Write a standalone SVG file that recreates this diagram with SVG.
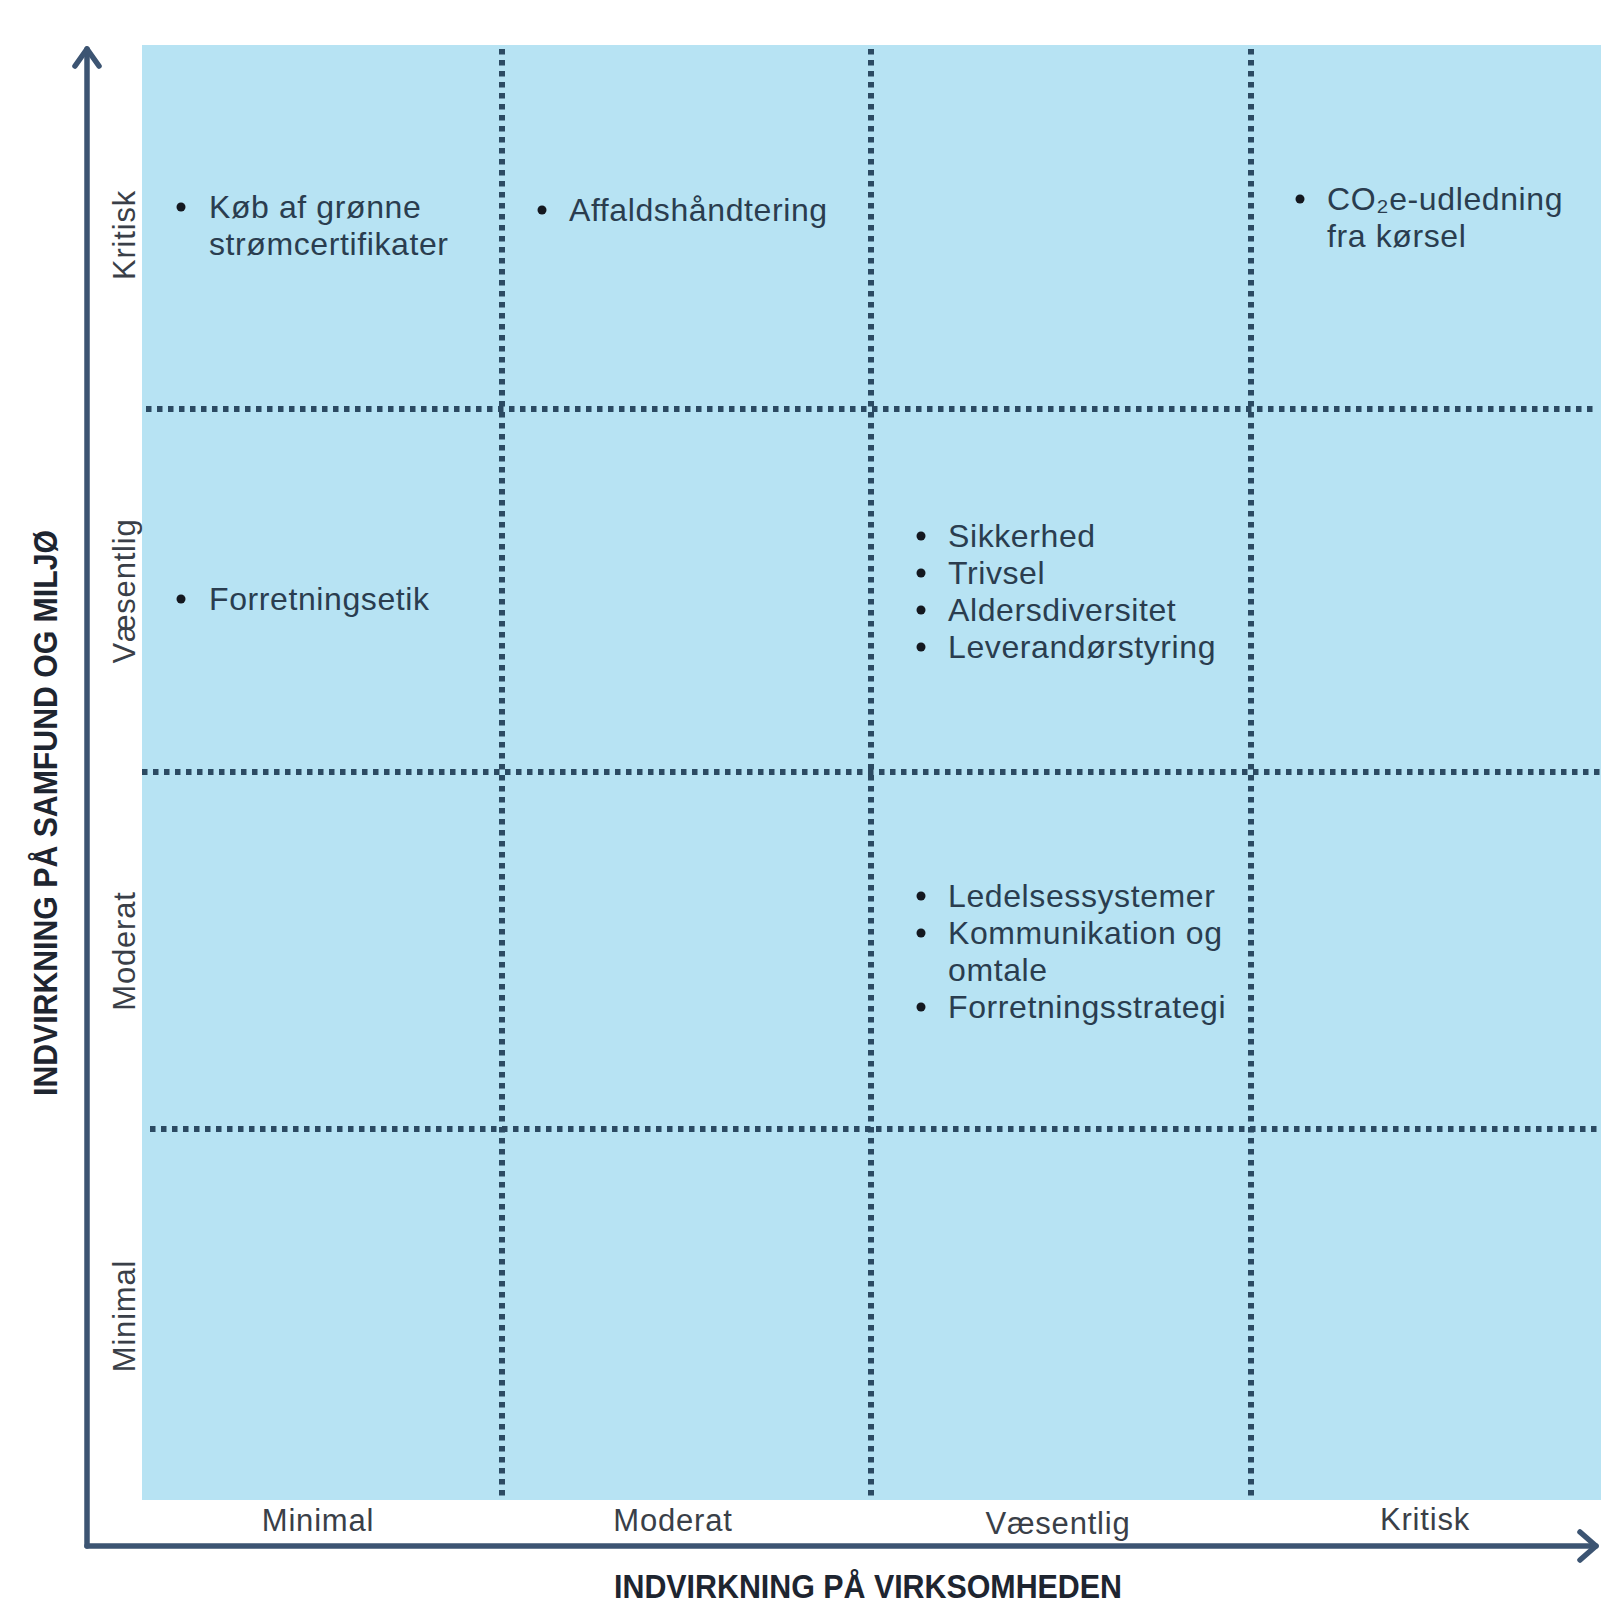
<svg xmlns="http://www.w3.org/2000/svg" width="1611" height="1602" viewBox="0 0 1611 1602">
<style>
.cell{fill:#b7e3f3}
.dot{stroke:#2b4a62;stroke-width:6;stroke-dasharray:5.5 5.5;fill:none}
.axis{stroke:#3c5472;stroke-width:5.5;fill:none;stroke-linecap:round;stroke-linejoin:round}
.item{font-family:"Liberation Sans",Arial,sans-serif;font-size:32px;letter-spacing:0.6px;fill:#2a3d4f}
.lbl{font-family:"Liberation Sans",Arial,sans-serif;font-size:31px;letter-spacing:0.8px;fill:#3a3f48;text-anchor:middle}
.title{font-family:"Liberation Sans",Arial,sans-serif;font-size:33px;font-weight:bold;fill:#1e2530;text-anchor:middle}
.bul{fill:#14181f}
</style>
<rect width="1611" height="1602" fill="#ffffff"/>
<g id="matrix">
<rect class="cell" x="142" y="45" width="1459" height="1455"/>
</g>
<g id="grid">
<line class="dot" x1="502" y1="49" x2="502" y2="1498"/>
<line class="dot" x1="871" y1="49" x2="871" y2="1498"/>
<line class="dot" x1="1251" y1="49" x2="1251" y2="1498"/>
<line class="dot" x1="146" y1="409" x2="1598" y2="409"/>
<line class="dot" x1="142" y1="772" x2="1600" y2="772"/>
<line class="dot" x1="150" y1="1129" x2="1598" y2="1129"/>
</g>
<g id="connectors">
<path class="axis" d="M87 1546 V49"/>
<path class="axis" d="M75 66 L87 49 L99 66"/>
<path class="axis" d="M87 1546 H1596"/>
<path class="axis" d="M1580 1532 L1596 1546 L1580 1560"/>
</g>
<g id="axis-titles">
<text class="title" x="868" y="1598" textLength="508" lengthAdjust="spacingAndGlyphs">INDVIRKNING PÅ VIRKSOMHEDEN</text>
<text class="title" transform="translate(57,813) rotate(-90)" x="0" y="0" textLength="566" lengthAdjust="spacingAndGlyphs">INDVIRKNING PÅ SAMFUND OG MILJØ</text>
</g>
<g id="row-labels">
<text class="lbl" transform="translate(135,235) rotate(-90)">Kritisk</text>
<text class="lbl" transform="translate(135,591) rotate(-90)">Væsentlig</text>
<text class="lbl" transform="translate(135,951) rotate(-90)">Moderat</text>
<text class="lbl" transform="translate(135,1316) rotate(-90)">Minimal</text>
</g>
<g id="col-labels">
<text class="lbl" x="318" y="1531">Minimal</text>
<text class="lbl" x="673" y="1531">Moderat</text>
<text class="lbl" x="1058" y="1534">Væsentlig</text>
<text class="lbl" x="1425" y="1530">Kritisk</text>
</g>
<g id="item-kob">
<circle class="bul" cx="181" cy="207" r="4.5"/>
<text class="item" x="209" y="218">Køb af grønne</text>
<text class="item" x="209" y="255">strømcertifikater</text>
</g>
<g id="item-affald">
<circle class="bul" cx="542" cy="210" r="4.5"/>
<text class="item" x="569" y="221">Affaldshåndtering</text>
</g>
<g id="item-co2">
<circle class="bul" cx="1300" cy="199" r="4.5"/>
<text class="item" x="1327" y="210">CO₂e-udledning</text>
<text class="item" x="1327" y="247">fra kørsel</text>
</g>
<g id="item-etik">
<circle class="bul" cx="181" cy="599" r="4.5"/>
<text class="item" x="209" y="610">Forretningsetik</text>
</g>
<g id="item-vaesentlig">
<circle class="bul" cx="921" cy="536" r="4.5"/>
<text class="item" x="948" y="547">Sikkerhed</text>
<circle class="bul" cx="921" cy="573" r="4.5"/>
<text class="item" x="948" y="584">Trivsel</text>
<circle class="bul" cx="921" cy="610" r="4.5"/>
<text class="item" x="948" y="621">Aldersdiversitet</text>
<circle class="bul" cx="921" cy="647" r="4.5"/>
<text class="item" x="948" y="658">Leverandørstyring</text>
</g>
<g id="item-moderat">
<circle class="bul" cx="921" cy="896" r="4.5"/>
<text class="item" x="948" y="907">Ledelsessystemer</text>
<circle class="bul" cx="921" cy="933" r="4.5"/>
<text class="item" x="948" y="944">Kommunikation og</text>
<text class="item" x="948" y="981">omtale</text>
<circle class="bul" cx="921" cy="1007" r="4.5"/>
<text class="item" x="948" y="1018">Forretningsstrategi</text>
</g>
</svg>
